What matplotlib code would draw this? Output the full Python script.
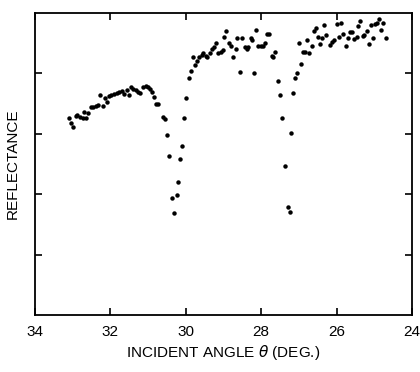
import numpy as np
import matplotlib.pyplot as plt

plt.rcParams['font.family'] = ['Liberation Sans', 'DejaVu Sans']

# incident angle (deg) and reflectance (arb. units)
angle = [33.10, 33.03, 32.98, 32.91, 32.88, 32.81, 32.72, 32.65, 32.69, 32.59,
         32.52, 32.45, 32.38, 32.32, 32.26, 32.19, 32.14, 32.08, 32.03, 31.97,
         31.90, 31.83, 31.76, 31.70, 31.64, 31.57, 31.51, 31.45, 31.39, 31.32,
         31.26, 31.20, 31.13, 31.06, 30.99, 30.95, 30.89, 30.84, 30.79, 30.73,
         30.61, 30.55, 30.49, 30.44, 30.36, 30.30, 30.24, 30.20, 30.15, 30.09,
         30.04, 29.98, 29.92, 29.87, 29.82, 29.76, 29.71, 29.65, 29.58, 29.54,
         29.46, 29.43, 29.36, 29.30, 29.24, 29.20, 29.14, 29.07, 29.02,
         28.99, 28.92, 28.85, 28.80, 28.74, 28.68, 28.63, 28.56, 28.52, 28.43,
         28.38, 28.34, 28.28, 28.24, 28.18, 28.14, 28.08, 28.01, 27.96, 27.90,
         27.84, 27.79, 27.72, 27.68, 27.62, 27.56, 27.50, 27.44, 27.37, 27.30,
         27.24, 27.21, 27.16, 27.10, 27.04, 26.99, 26.94, 26.88, 26.83, 26.78,
         26.72, 26.66, 26.59, 26.55, 26.50, 26.44, 26.40, 26.33, 26.28, 26.18,
         26.13, 26.08, 26.00, 25.94, 25.88, 25.82, 25.76, 25.71, 25.64, 25.58,
         25.53, 25.47, 25.42, 25.38, 25.31, 25.27, 25.20, 25.14, 25.09, 25.03,
         24.98, 24.92, 24.88, 24.82, 24.76, 24.69]
refl = [3.27, 3.18, 3.11, 3.29, 3.31, 3.28, 3.27, 3.26, 3.36, 3.35,
        3.45, 3.44, 3.46, 3.48, 3.64, 3.46, 3.60, 3.53, 3.63, 3.64,
        3.66, 3.68, 3.70, 3.71, 3.66, 3.73, 3.64, 3.77, 3.74, 3.73,
        3.70, 3.68, 3.77, 3.79, 3.78, 3.74, 3.70, 3.61, 3.49, 3.49,
        3.28, 3.25, 2.98, 2.63, 1.94, 1.69, 1.99, 2.20, 2.58, 2.80,
        3.26, 3.60, 3.93, 4.04, 4.28, 4.14, 4.21, 4.28, 4.30, 4.33,
        4.29, 4.27, 4.34, 4.40, 4.44, 4.50, 4.34, 4.36, 4.38,
        4.60, 4.70, 4.50, 4.45, 4.27, 4.40, 4.58, 4.03, 4.58, 4.44,
        4.40, 4.44, 4.58, 4.55, 4.01, 4.72, 4.45, 4.45, 4.45, 4.50,
        4.65, 4.65, 4.29, 4.27, 4.36, 3.87, 3.64, 3.26, 2.47, 1.79,
        1.71, 3.01, 3.68, 3.92, 4.00, 4.50, 4.15, 4.36, 4.35, 4.55,
        4.33, 4.45, 4.70, 4.76, 4.61, 4.48, 4.58, 4.80, 4.64, 4.47,
        4.52, 4.55, 4.81, 4.60, 4.84, 4.65, 4.46, 4.59, 4.69, 4.68,
        4.57, 4.60, 4.78, 4.87, 4.62, 4.64, 4.70, 4.48, 4.80, 4.59,
        4.82, 4.83, 4.90, 4.72, 4.84, 4.58]

fig = plt.figure(figsize=(4.2, 3.72), dpi=100)
ax = fig.add_axes([0.083, 0.153, 0.898, 0.812])

ax.plot(angle, refl, 'o', color='black', markersize=3.2, markeredgewidth=0)

ax.set_xlim(34, 24)
ax.set_ylim(0, 5)
ax.set_xticks([34, 32, 30, 28, 26, 24])
ax.set_yticks([1, 2, 3, 4])
ax.set_yticklabels([])
ax.tick_params(direction='in', top=True, right=True, length=5, width=1.2,
               labelsize=11, pad=7)
for s in ax.spines.values():
    s.set_linewidth(1.3)

ax.set_xlabel(r'INCIDENT ANGLE $\theta$ (DEG.)', fontsize=11, labelpad=3)
ax.set_ylabel('REFLECTANCE', fontsize=11, labelpad=4)

fig.savefig('out.png', dpi=100)
